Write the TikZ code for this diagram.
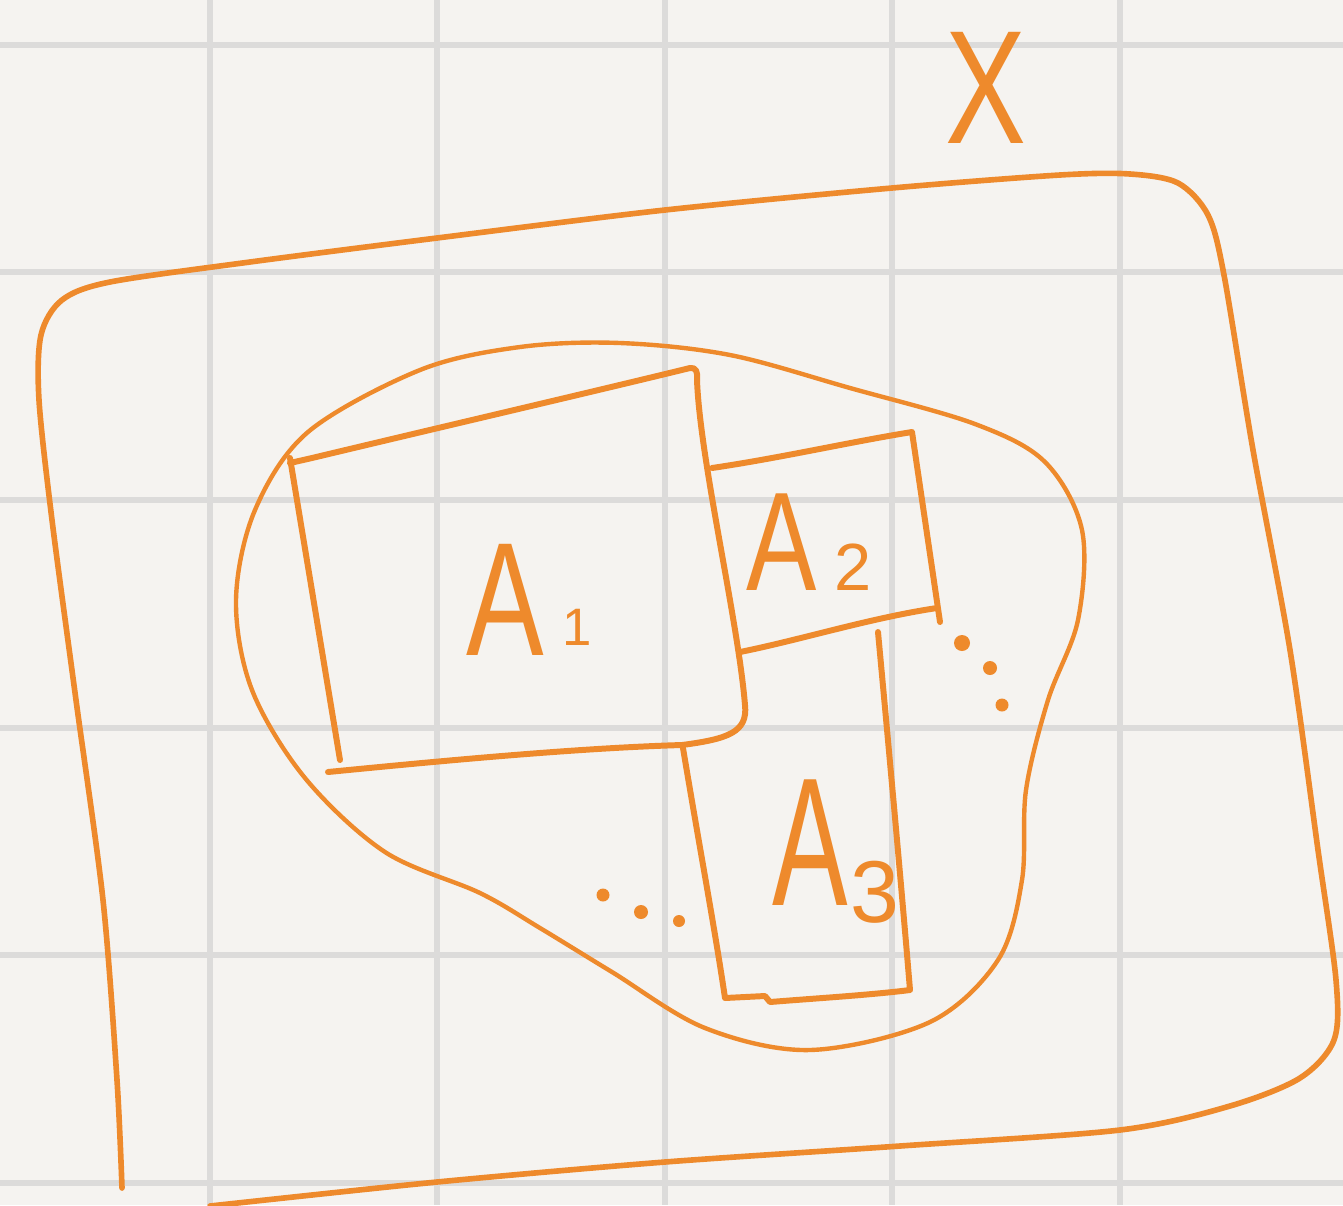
\documentclass[tikz,border=0pt]{standalone}
\usepackage{fontspec}
\setmainfont{Liberation Sans}
\definecolor{paper}{HTML}{F5F3F0}
\definecolor{gridc}{HTML}{DCDBDA}
\definecolor{ink}{HTML}{EE8A2C}
\begin{document}
\begin{tikzpicture}[x=0.02cm,y=-0.02cm,
  gridline/.style={gridc,line width=3.4pt},
  outerline/.style={ink,line width=3.2pt,line cap=round,line join=round},
  blobline/.style={ink,line width=2.5pt,line cap=round,line join=round},
  rectline/.style={ink,line width=3.4pt,line cap=round,line join=round},
  dotmark/.style={ink,fill=ink},
  lbl/.style={ink,inner sep=0pt,anchor=base west}]
\useasboundingbox (0,0) rectangle (1343,1205);
\fill[paper] (0,0) rectangle (1343,1205);
% grid
\foreach \gx in {210,437,665,892,1120} \draw[gridline] (\gx,0) -- (\gx,1205);
\foreach \gy in {45,272,500,728,955,1183} \draw[gridline] (0,\gy) -- (1343,\gy);
% outer set X
\draw[outerline] plot[smooth,tension=0.5] coordinates {
 (122,1188) (117,1080) (103,900) (76,700) (52,520) (39,400) (41,335) (62,300) (110,282)
 (250,262) (437,238) (665,210) (892,188) (1060,175) (1130,174) (1178,183) (1208,215)
 (1224,275) (1253,450) (1290,650) (1318,850) (1336,980) (1334,1040) (1300,1078)
 (1230,1106) (1120,1130) (900,1146) (665,1162) (437,1182) (210,1206)};
% blob
\draw[blobline] plot[smooth cycle,tension=0.55] coordinates {
 (620,343) (730,355) (850,388) (975,424) (1045,462) (1082,530) (1078,620)
 (1048,700) (1026,790) (1022,880) (998,960) (930,1022) (810,1050) (705,1028)
 (612,972) (540,928) (480,893) (385,852) (305,778) (252,690) (236,600) (255,510)
 (308,432) (420,370) (520,347)};
% A1
\draw[rectline] (290,463) -- (312,458) .. controls (450,425) and (600,390) .. (690,368)
  .. controls (696,367) and (698,372) .. (697,380);
\draw[rectline] (290,458) -- (340,760);
\draw[rectline] (328,772) .. controls (450,760) and (580,748) .. (682,745);
\draw[rectline] (697,380) .. controls (700,460) and (738,620) .. (745,705)
  .. controls (748,732) and (728,739) .. (682,745);
% A2
\draw[rectline] (712,468) .. controls (780,458) and (850,442) .. (912,432) -- (940,622);
\draw[rectline] (937,608) .. controls (870,618) and (800,640) .. (740,652);
% A3
\draw[rectline] (683,748) .. controls (700,850) and (715,930) .. (725,998) -- (765,996)
  -- (770,1002) .. controls (820,998) and (870,995) .. (910,990)
  .. controls (900,870) and (888,740) .. (878,632);
% dots
\fill[dotmark] (962,643) circle (8);
\fill[dotmark] (990,668) circle (7);
\fill[dotmark] (1002,705) circle (6.5);
\fill[dotmark] (603,895) circle (6.5);
\fill[dotmark] (641,912) circle (7);
\fill[dotmark] (679,921) circle (6);
% labels
\node[lbl] (X) at (945,143) {\fontsize{92}{92}\selectfont\scalebox{0.75}[1]{X}};
\node[lbl] (a1) at (466,655) {\fontsize{92}{92}\selectfont\scalebox{0.72}[1]{A}};
\node[lbl] (a1s) at (562,645) {\fontsize{30}{30}\selectfont 1};
\node[lbl] (a2) at (746,590) {\fontsize{80}{80}\selectfont\scalebox{0.75}[1]{A}};
\node[lbl] (a2s) at (834,590) {\fontsize{38}{38}\selectfont 2};
\node[lbl] (a3) at (772,905) {\fontsize{104}{104}\selectfont\scalebox{0.62}[1]{A}};
\node[lbl] (a3s) at (850,922) {\fontsize{50}{50}\selectfont 3};
\end{tikzpicture}
\end{document}
